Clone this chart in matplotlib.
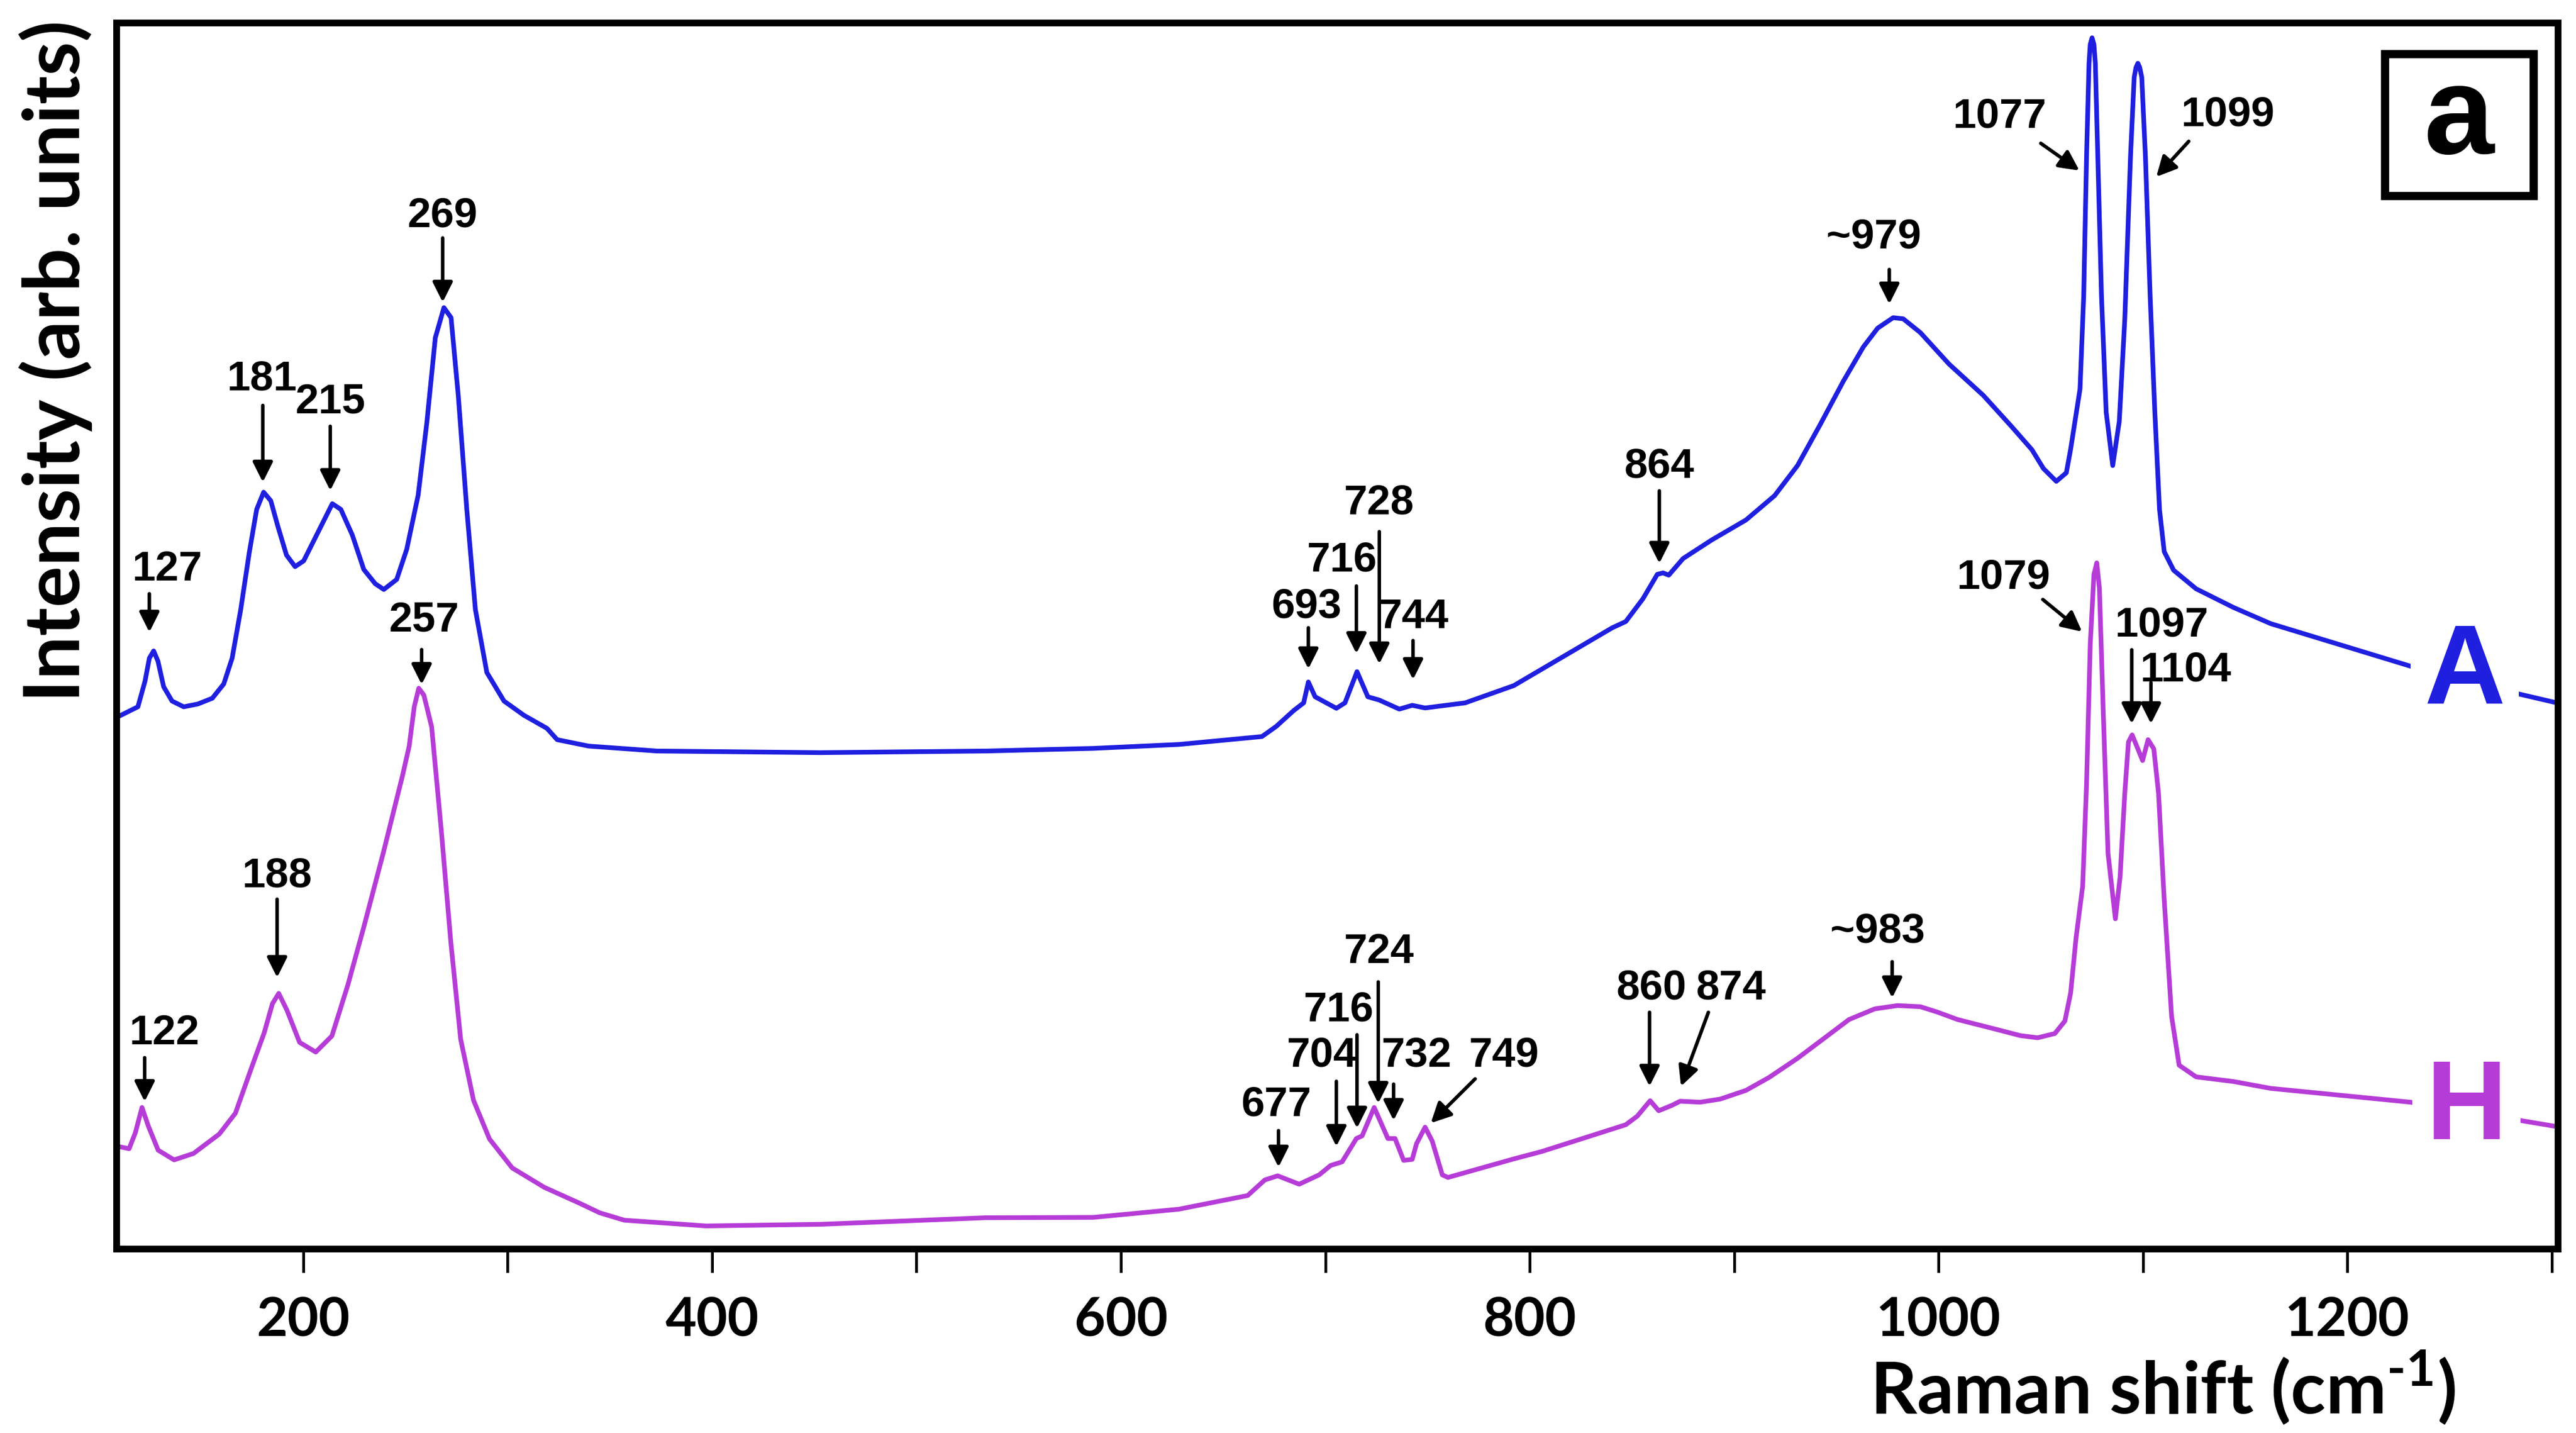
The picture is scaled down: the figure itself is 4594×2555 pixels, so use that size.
import matplotlib.pyplot as plt
import matplotlib.ticker as mticker
from matplotlib.patches import Rectangle

plt.rcParams['mathtext.fontset'] = 'custom'
plt.rcParams['mathtext.rm'] = 'Lato:bold'
plt.rcParams['mathtext.bf'] = 'Lato:bold'

# Raman spectra (x in cm-1, intensity in arbitrary units)
shift_A = [110.7, 119.1, 122.6, 124.7, 126.8, 128.9, 131.7, 135.8, 141.5, 148.4,
           155.5, 161.1, 165.2, 169.4, 173.6, 177.2, 180.6, 184.1, 187.6, 191.8,
           196.0, 200.2, 207.2, 214.2, 218.4, 224.0, 229.6, 235.2, 239.4, 245.7,
           250.6, 256.2, 260.4, 264.6, 268.8, 272.3, 275.8, 280.0, 284.2, 289.8,
           298.2, 308.0, 319.2, 324.2, 339.6, 373.0, 453.0, 534.0, 586.4, 628.4,
           669.0, 676.0, 684.5, 689.4, 691.7, 695.0, 705.4, 709.6, 715.5, 720.8,
           726.4, 736.2, 742.5, 748.8, 768.4, 792.2, 805.9, 840.4, 847.0, 855.4,
           862.4, 865.2, 868.0, 875.0, 889.0, 905.8, 919.8, 931.0, 942.2, 953.4,
           963.2, 970.2, 977.8, 982.7, 991.1, 1005.1, 1021.9, 1035.9, 1045.7, 1051.3,
           1057.6, 1062.5, 1064.6, 1069.2, 1071.0, 1072.4, 1073.6, 1074.2, 1075.1, 1076.0,
           1076.7, 1077.9, 1079.7, 1082.0, 1085.2, 1088.4, 1091.1, 1093.9, 1095.7, 1096.6,
           1097.5, 1098.4, 1099.4, 1101.2, 1103.5, 1105.8, 1108.1, 1110.4, 1115.0, 1126.0,
           1144.2, 1162.5, 1230.9, 1282.5, 1303.2]
int_A = [324.7, 329.9, 345.6, 359.5, 363.9, 357.7, 342.1, 333.4, 329.9, 331.6,
         335.1, 343.8, 359.5, 389.1, 423.9, 450.0, 460.5, 455.3, 439.6, 422.2,
         415.2, 418.7, 436.1, 453.5, 450.0, 434.4, 413.5, 404.8, 401.3, 407.4,
         425.7, 458.7, 502.3, 554.5, 572.8, 566.7, 519.7, 450.0, 389.1, 350.8,
         333.4, 324.7, 316.8, 309.9, 306.0, 303.0, 302.0, 303.0, 304.6, 307.0,
         311.8, 318.0, 327.6, 332.3, 345.0, 336.0, 329.0, 332.3, 351.3, 336.0,
         334.0, 328.5, 330.8, 329.2, 332.3, 342.8, 352.8, 378.0, 381.8, 395.7,
         410.5, 411.4, 410.0, 420.1, 431.4, 443.6, 458.4, 476.7, 501.9, 528.0,
         548.9, 560.3, 566.7, 566.0, 557.6, 538.5, 519.4, 500.2, 486.3, 474.9,
         467.1, 472.3, 486.6, 523.3, 580.0, 664.8, 721.5, 733.0, 737.0, 733.0,
         721.5, 664.8, 580.0, 509.2, 476.7, 503.5, 565.8, 664.8, 713.0, 719.0,
         721.5, 719.0, 713.0, 664.8, 580.0, 509.2, 449.8, 424.3, 413.0, 401.7,
         390.4, 380.5, 354.6, 338.1, 332.1]

shift_H = [110.9, 114.8, 117.9, 121.1, 124.2, 129.0, 136.8, 146.3, 158.9, 166.8,
           174.6, 180.9, 184.9, 188.0, 192.0, 198.2, 206.1, 214.0, 221.9, 229.7,
           239.2, 248.6, 251.8, 254.3, 256.5, 259.0, 262.8, 267.5, 272.2, 277.0,
           283.3, 291.1, 302.2, 317.9, 335.2, 345.0, 357.0, 397.0, 453.0, 534.0,
           586.4, 628.4, 662.0, 670.4, 676.7, 687.2, 697.0, 702.6, 708.2, 715.2,
           718.0, 723.9, 730.6, 734.1, 738.3, 742.5, 744.6, 748.8, 752.3, 757.2,
           760.0, 792.2, 805.9, 847.0, 852.6, 858.9, 863.1, 869.4, 873.6, 883.4,
           893.2, 905.8, 917.0, 931.0, 945.0, 956.2, 968.8, 980.0, 991.1, 999.5,
           1009.3, 1026.1, 1040.1, 1048.5, 1056.9, 1061.8, 1064.6, 1067.3, 1070.5, 1072.4,
           1074.2, 1076.0, 1077.4, 1078.7, 1080.6, 1082.9, 1086.5, 1088.8, 1091.1, 1092.9,
           1094.7, 1097.5, 1099.8, 1102.5, 1105.3, 1107.6, 1110.4, 1114.0, 1117.7, 1126.0,
           1144.2, 1162.5, 1230.9, 1284.0, 1303.2]
int_H = [62.0, 61.0, 70.9, 86.1, 74.8, 60.1, 54.2, 58.1, 69.9, 82.6,
         110.0, 131.6, 149.2, 155.5, 145.3, 125.7, 119.8, 129.6, 161.0, 196.3,
         241.3, 288.3, 305.9, 330.0, 341.2, 337.0, 317.7, 255.0, 186.5, 127.6,
         90.4, 66.9, 49.3, 37.5, 27.8, 22.0, 17.5, 14.0, 15.0, 19.0,
         19.2, 24.2, 32.5, 42.0, 44.5, 39.4, 45.1, 50.8, 53.0, 67.2,
         68.8, 86.1, 67.2, 67.2, 53.9, 54.5, 64.0, 74.1, 65.6, 45.1,
         43.5, 54.8, 59.3, 75.6, 80.8, 90.2, 84.1, 87.3, 89.9, 89.3,
         91.2, 96.5, 104.3, 116.0, 129.1, 139.6, 146.1, 148.1, 147.4, 144.1,
         139.6, 134.3, 129.8, 128.5, 131.1, 138.7, 155.7, 189.7, 220.8, 283.0,
         367.9, 410.4, 417.5, 401.9, 325.5, 240.6, 200.9, 226.4, 277.4, 308.5,
         312.8, 304.3, 297.2, 309.9, 304.3, 277.4, 212.3, 141.5, 111.8, 104.7,
         101.9, 97.7, 89.3, 78.3, 74.3]

# peak labels: text, text position, arrow tail, arrow head
labels = ['127', '181', '215', '269', '693', '716', '728', '744', '864', '~979',
          '1077', '1099',
          '122', '188', '257', '677', '704', '716', '724', '732', '749', '860',
          '874', '~983', '1079', '1097', '1104']
label_pos = [(133.4, 413.5), (179.6, 529.4), (213.2, 515.4), (268.2, 628.7),
             (690.8, 390.7), (708.2, 419.0), (726.4, 454.0), (743.2, 384.4),
             (863.4, 476.0), (968.3, 615.5), (1029.9, 689.0), (1141.5, 690.0),
             (132.0, 131.3), (187.2, 226.8), (259.0, 382.6), (676.0, 87.7),
             (698.4, 117.7), (706.6, 145.5), (726.4, 180.8), (744.6, 117.7),
             (787.3, 117.7), (859.5, 158.6), (898.4, 158.6), (970.2, 193.0),
             (1031.8, 408.4), (1109.0, 379.6), (1120.8, 352.1)]
arrow_from = [(124.7, 398.7), (180.2, 513.3), (213.2, 500.6), (268.2, 615.2),
              (691.7, 378.0), (715.2, 403.4), (726.4, 436.5), (742.9, 370.2),
              (863.4, 461.3), (975.9, 596.0), (1050.0, 672.8), (1122.4, 674.0),
              (122.4, 116.4), (187.2, 212.8), (257.9, 364.7), (677.1, 72.0),
              (705.4, 102.0), (715.5, 130.3), (725.9, 162.5), (733.4, 100.3),
              (773.3, 103.5), (858.6, 144.0), (887.4, 144.0), (977.3, 174.8),
              (1051.0, 395.2), (1094.5, 364.6), (1103.9, 344.6)]
arrow_to = [(124.7, 375.3), (180.2, 466.6), (213.2, 461.5), (268.2, 576.1),
            (691.7, 353.0), (715.2, 362.3), (726.4, 356.0), (742.9, 346.5),
            (863.4, 417.2), (975.9, 575.0), (1068.9, 656.2), (1106.5, 652.4),
            (122.4, 89.7), (187.2, 165.2), (257.9, 343.5), (677.1, 49.8),
            (705.4, 62.4), (715.5, 73.5), (725.9, 88.6), (733.4, 78.2),
            (751.6, 76.6), (858.6, 99.0), (874.0, 99.0), (977.3, 152.8),
            (1070.2, 375.6), (1094.5, 319.6), (1103.9, 319.6)]

blue = '#1f1fe0'
magenta = '#b63cd8'
label_font = ['Liberation Sans Narrow', 'Liberation Sans']

fig = plt.figure(figsize=(4594 / 300, 2555 / 300), dpi=300)
ax = fig.add_axes([71 / 1568, 1 - 760 / 872, 1486 / 1568, 746 / 872])

ax.plot(shift_A, int_A, color=blue, lw=2.0, solid_joinstyle='round')
ax.plot(shift_H, int_H, color=magenta, lw=2.0, solid_joinstyle='round')

for s, p, a, b in zip(labels, label_pos, arrow_from, arrow_to):
    ax.text(p[0], p[1], s, ha='center', va='center', fontsize=18,
            fontweight='bold', family=label_font)
    ax.annotate('', xy=b, xytext=a,
                arrowprops=dict(arrowstyle='-|>', color='k', lw=1.5,
                                mutation_scale=18, shrinkA=0, shrinkB=0))

box = dict(facecolor='white', edgecolor='none', pad=6)
ax.text(1257.4, 349.6, 'A', color=blue, fontsize=48, fontweight='bold',
        family='Liberation Sans', ha='center', va='center', bbox=box)
ax.text(1258.2, 84.3, 'H', color=magenta, fontsize=48, fontweight='bold',
        family='Liberation Sans', ha='center', va='center', bbox=box)

ax.add_patch(Rectangle((0.929, 0.859), 0.061, 0.116, transform=ax.transAxes,
                       fill=False, lw=3.5, ec='k'))
ax.text(0.9595, 0.92, 'a', transform=ax.transAxes, fontsize=54,
        fontweight='bold', family='Liberation Sans', ha='center', va='center')

ax.set_xlim(108.7, 1303)
ax.set_ylim(0, 746)
ax.set_yticks([])
ax.xaxis.set_major_locator(mticker.MultipleLocator(200))
ax.xaxis.set_minor_locator(mticker.MultipleLocator(100))
ax.tick_params(axis='x', which='both', direction='out', length=10, width=1.2,
               pad=10)
for lab in ax.get_xticklabels():
    lab.set_fontfamily('Lato')
    lab.set_fontweight('bold')
    lab.set_fontsize(23)
for sp in ax.spines.values():
    sp.set_linewidth(2.9)

fig.text(0.8396, 0.0138, r'Raman shift (cm$^{\text{-1}}$)', ha='center',
         va='baseline', fontsize=31, fontweight='bold', family='Lato')
fig.text(0.0217, 0.748, 'Intensity (arb. units)', rotation=90, ha='center',
         va='center', fontsize=33, fontweight='bold', family='Lato')

fig.savefig('out.png', dpi=300)
